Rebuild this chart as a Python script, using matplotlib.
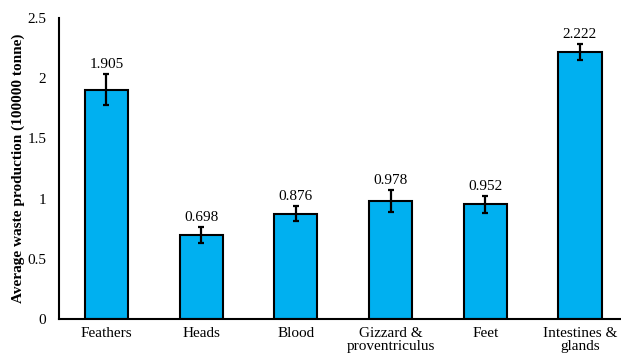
import matplotlib
matplotlib.use("Agg")
import matplotlib.pyplot as plt

# data
categories = ["Feathers", "Heads", "Blood", "Gizzard &\nproventriculus",
              "Feet", "Intestines &\nglands"]
values = [1.905, 0.698, 0.876, 0.978, 0.952, 2.222]
errors = [0.129, 0.066, 0.064, 0.093, 0.069, 0.066]
yticks = [0, 0.5, 1, 1.5, 2, 2.5]
ytick_labels = ["0", "0.5", "1", "1.5", "2", "2.5"]

plt.rcParams["font.family"] = ["Liberation Serif", "DejaVu Serif"]

fig = plt.figure(figsize=(6.21, 3.56), dpi=100)
ax = fig.add_axes([0.095, 0.104, 0.905, 0.845])

x = range(len(categories))
ax.bar(x, values, width=0.455, color="#00B0F0", edgecolor="black", linewidth=1.5,
       yerr=errors, capsize=2.5,
       error_kw=dict(elinewidth=1.6, capthick=1.6, ecolor="black"), zorder=2)

# value labels just above the error bars
for xi, v, e in zip(x, values, errors):
    ax.annotate(f"{v:.3f}", (xi, v + e), xytext=(0, 2), textcoords="offset points",
                ha="center", va="bottom", fontsize=11)

ax.set_xlim(-0.5, 5.433)
ax.set_ylim(0, 2.5)
ax.set_yticks(yticks)
ax.set_yticklabels(ytick_labels, fontsize=11)
ax.set_xticks(list(x))
ax.set_xticklabels(categories, fontsize=11, linespacing=1.0)
ax.tick_params(axis="y", length=0, pad=9)
ax.tick_params(axis="x", length=0, pad=6)
ax.set_ylabel("Average waste production (100000 tonne)", fontsize=11,
              fontweight="bold", labelpad=2)

for side in ["top", "right"]:
    ax.spines[side].set_visible(False)
for side in ["left", "bottom"]:
    ax.spines[side].set_linewidth(1.5)

fig.savefig("out.png", dpi=100)
